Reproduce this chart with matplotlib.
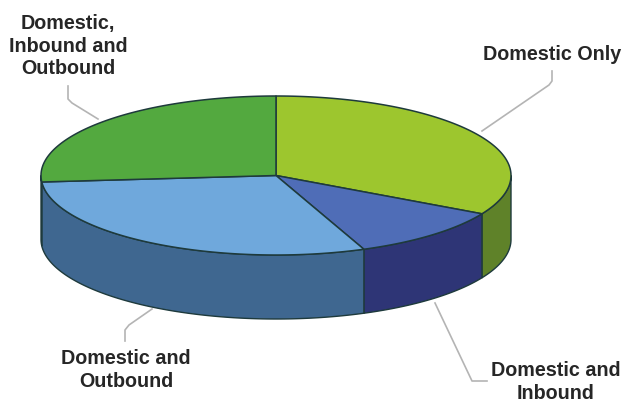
import numpy as np
import matplotlib
matplotlib.use('Agg')
import matplotlib.pyplot as plt
from matplotlib.patches import Polygon

# shares, clockwise from 12 o'clock
labels = ['Domestic Only', 'Domestic and\nInbound', 'Domestic and\nOutbound',
          'Domestic,\nInbound and\nOutbound']
shares = [33.0, 10.9, 29.8, 26.3]
top_colors = ['#9DC62E', '#4F6DB7', '#6FA8DC', '#53A93F']
side_colors = ['#5F8229', '#2E3576', '#3F6790', '#3F6790']

# pie geometry, in pixels
cx, cy = 276, 176.5
rx, ry = 235, 79.5
depth = 64
edge = '#1E3A3C'

plt.rcParams['font.family'] = ['Liberation Sans', 'DejaVu Sans']

fig = plt.figure(figsize=(6.24, 4.02), dpi=100, facecolor='white')
ax = fig.add_axes([0, 0, 1, 1])
ax.set_xlim(0, 624)
ax.set_ylim(402, 0)
ax.axis('off')


def rim(t1, t2, n=120):
    t = np.radians(np.linspace(t1, t2, n))
    return cx + rx * np.cos(t), cy - ry * np.sin(t)


# leader lines
leaders = [
    ([552, 552, 549, 482], [72, 82, 86, 132]),
    ([487, 472, 435], [382, 382, 304]),
    ([125, 125, 129, 152], [342, 331, 326, 310]),
    ([68, 68, 72, 98], [87, 100, 104, 120]),
]
for xs, ys in leaders:
    ax.plot(xs, ys, color='#B4B4B4', lw=1.2, zorder=1)

# slice angles, going clockwise from the top
bounds = 90 - np.concatenate([[0], np.cumsum(shares)]) / sum(shares) * 360

# front wall, only the part below the centre line can be seen
for i in range(len(shares)):
    t1 = min(bounds[i], 0)
    t2 = max(bounds[i + 1], -180)
    if t1 > t2:
        x, y = rim(t1, t2)
        pts = np.r_[np.c_[x, y], np.c_[x[::-1], y[::-1] + depth]]
        ax.add_patch(Polygon(pts, closed=True, fc=side_colors[i], ec=edge, lw=1, zorder=2))

# top face
for i in range(len(shares)):
    x, y = rim(bounds[i], bounds[i + 1])
    pts = np.r_[[[cx, cy]], np.c_[x, y]]
    ax.add_patch(Polygon(pts, closed=True, fc=top_colors[i], ec=edge, lw=1.1,
                         joinstyle='round', zorder=3))

# labels
label_pos = [(552, 54), (556, 382), (126, 370), (68, 46)]
for lab, (x, y) in zip(labels, label_pos):
    ax.text(x, y, lab, ha='center', va='center', fontsize=14.2, fontweight='bold',
            color='#262626', linespacing=1.26, zorder=4)

fig.savefig('out.png', dpi=100)
